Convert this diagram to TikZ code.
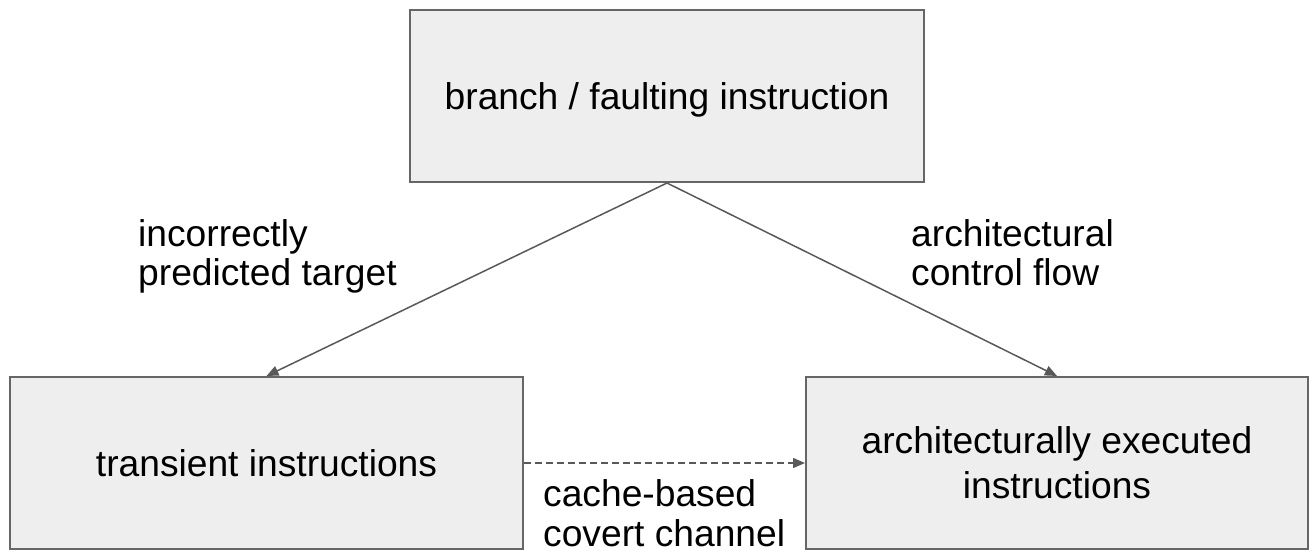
\documentclass[tikz,border=0pt]{standalone}
\usepackage{fontspec}
\setmainfont{Liberation Sans}
\usetikzlibrary{arrows.meta}
\definecolor{boxfill}{HTML}{EEEEEE}
\definecolor{boxdraw}{HTML}{666666}
\definecolor{linecol}{HTML}{595959}
\begin{document}
\begin{tikzpicture}[x=1pt,y=-1pt,
  box/.style={draw=boxdraw, fill=boxfill, line width=2pt, inner sep=0pt,
    font=\fontsize{37.2}{45}\selectfont, align=center},
  lbl/.style={inner sep=0pt, align=left, anchor=base west},
  conn/.style={draw=linecol, line width=1.5pt, -{Triangle[length=12pt,width=10pt]}},
  dconn/.style={draw=linecol, line width=1.5pt, dash pattern=on 7pt off 4pt,
    -{Triangle[length=12pt,width=10pt]}}]
\useasboundingbox (0,0) rectangle (1310,554);
\node[box, minimum width=514pt, minimum height=172pt, text depth=0pt] (top) at (667,96) {branch / faulting instruction};
\node[box, minimum width=513pt, minimum height=172pt] (left) at (266.5,463) {transient instructions};
\node[box, minimum width=502pt, minimum height=172pt] (right) at (1057,463) {architecturally executed\\instructions};
\draw[conn] (top.south) -- (left.north);
\draw[conn] (top.south) -- (right.north);
\draw[dconn] (left.east) -- (right.west);
\node[lbl, font=\fontsize{37.2}{38.5}\selectfont] (l1) at (138,285) {incorrectly\\predicted target};
\node[lbl, font=\fontsize{37.2}{38.5}\selectfont] (l2) at (911,285) {architectural\\control flow};
\node[lbl, font=\fontsize{37.2}{40}\selectfont] (l3) at (543,546) {cache-based\\covert channel};
\end{tikzpicture}
\end{document}
